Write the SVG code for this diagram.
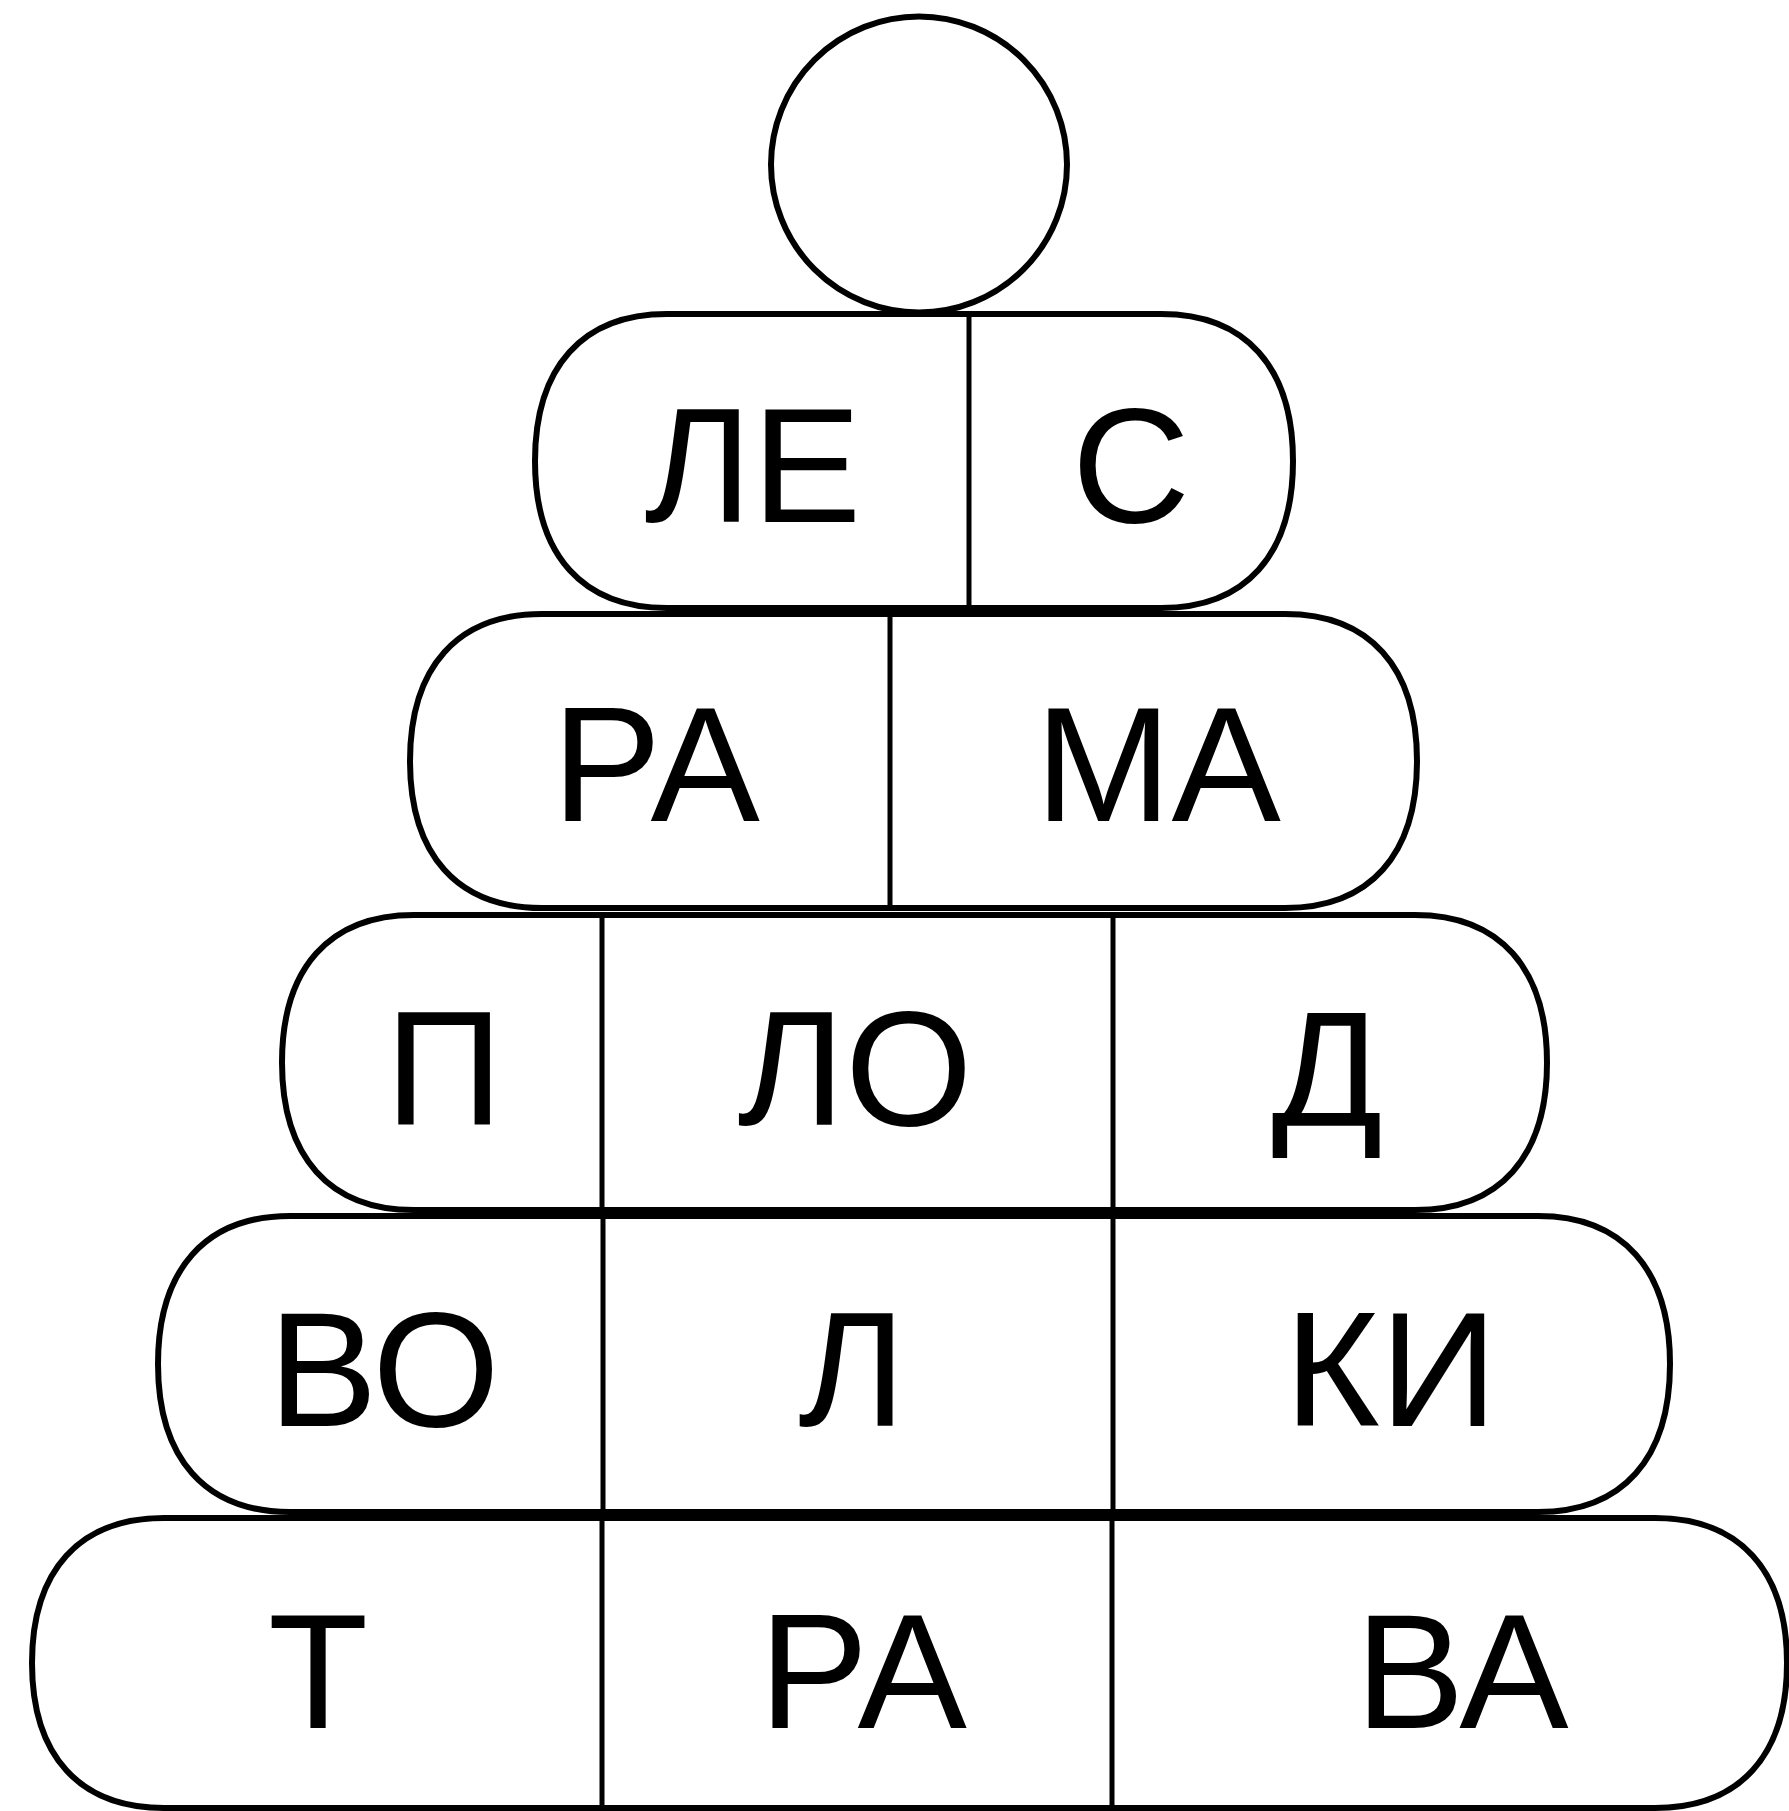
<svg xmlns="http://www.w3.org/2000/svg" width="1789" height="1811" viewBox="0 0 1789 1811">
<style>
.shape{fill:none;stroke:#000;stroke-width:6}
.div{stroke:#000;stroke-width:5}
.t{font-family:"Liberation Sans",Arial,sans-serif;font-size:164px;fill:#000;text-anchor:middle}
</style>
<rect width="1789" height="1811" fill="#fff"/>
<g id="head">
<circle class="shape" cx="919" cy="164.5" r="148"/>
</g>
<g id="row1">
<path class="shape" d="M667 314 H1161 C1245.5 314 1293 366.9 1293 461 C1293 555.1 1245.5 608 1161 608 H667 C582.5 608 535 555.1 535 461 C535 366.9 582.5 314 667 314 Z"/>
<line class="div" x1="969" y1="314" x2="969" y2="608"/>
<text class="t" x="753" y="522">ЛЕ</text>
<text class="t" x="1131" y="522">С</text>
</g>
<g id="row2">
<path class="shape" d="M542 614 H1285 C1369.5 614 1417 666.9 1417 761 C1417 855.1 1369.5 908 1285 908 H542 C457.5 908 410 855.1 410 761 C410 666.9 457.5 614 542 614 Z"/>
<line class="div" x1="890" y1="614" x2="890" y2="908"/>
<text class="t" x="656" y="821">РА</text>
<text class="t" x="1158" y="821">МА</text>
</g>
<g id="row3">
<path class="shape" d="M414 915 H1415 C1499.5 915 1547 968.1 1547 1062.5 C1547 1156.9 1499.5 1210 1415 1210 H414 C329.5 1210 282 1156.9 282 1062.5 C282 968.1 329.5 915 414 915 Z"/>
<line class="div" x1="602" y1="915" x2="602" y2="1210"/>
<line class="div" x1="1113" y1="915" x2="1113" y2="1210"/>
<text class="t" x="444" y="1125">П</text>
<text class="t" x="855" y="1125">ЛО</text>
<text class="t" x="1327" y="1125">Д</text>
</g>
<g id="row4">
<path class="shape" d="M290 1216 H1538 C1622.5 1216 1670 1269.3 1670 1364 C1670 1458.7 1622.5 1512 1538 1512 H290 C205.5 1512 158 1458.7 158 1364 C158 1269.3 205.5 1216 290 1216 Z"/>
<line class="div" x1="603" y1="1216" x2="603" y2="1512"/>
<line class="div" x1="1113" y1="1216" x2="1113" y2="1512"/>
<text class="t" x="384" y="1426">ВО</text>
<text class="t" x="852" y="1426">Л</text>
<text class="t" x="1391" y="1426">КИ</text>
</g>
<g id="row5">
<path class="shape" d="M164 1518 H1655 C1739.5 1518 1787 1570.2 1787 1663 C1787 1755.8 1739.5 1808 1655 1808 H164 C79.5 1808 32 1755.8 32 1663 C32 1570.2 79.5 1518 164 1518 Z"/>
<line class="div" x1="602" y1="1518" x2="602" y2="1811"/>
<line class="div" x1="1112" y1="1518" x2="1112" y2="1811"/>
<text class="t" x="318" y="1728">Т</text>
<text class="t" x="863" y="1728">РА</text>
<text class="t" x="1462" y="1728">ВА</text>
</g>
<g id="connectors"></g>
</svg>
